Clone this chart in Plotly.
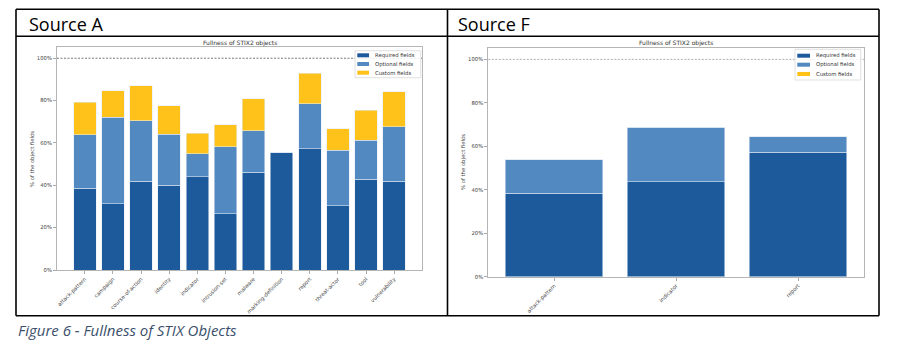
import plotly.graph_objects as go

W, H = 901, 356

# ---------------- data ----------------
cats_a = ["attack-pattern", "campaign", "course-of-action", "identity", "indicator",
          "intrusion-set", "malware", "marking-definition", "report", "threat-actor",
          "tool", "vulnerability"]
req_a = [38.5, 31.4, 41.8, 40.1, 44.0, 26.5, 46.2, 55.5, 57.3, 30.3, 42.9, 41.8]
opt_a = [25.4, 40.7, 28.7, 24.1, 11.0, 31.7, 19.6, 0.0, 21.1, 26.3, 18.3, 25.9]
cus_a = [15.3, 12.5, 16.6, 13.4, 9.5, 10.3, 15.0, 0.0, 14.4, 10.0, 14.2, 16.5]

cats_f = ["attack-pattern", "indicator", "report"]
req_f = [38.4, 43.7, 57.2]
opt_f = [15.4, 25.0, 7.2]
cus_f = [0.0, 0.0, 0.0]

series_names = ["Required fields", "Optional fields", "Custom fields"]
colors = ["#1c5a9c", "#5289c0", "#fec21b"]
y_ticks = [0, 20, 40, 60, 80, 100]

# ---------------- helpers ----------------
def px(x):
    return x / W

def py(y):
    return 1 - y / H

fig = go.Figure()

edge = dict(color="rgba(225,235,246,0.8)", width=0.7)
for vals, name, col in zip([req_a, opt_a, cus_a], series_names, colors):
    fig.add_trace(go.Bar(x=cats_a, y=vals, name=name, marker=dict(color=col, line=edge),
                         xaxis="x", yaxis="y", showlegend=False, width=0.8))
for vals, name, col in zip([req_f, opt_f, cus_f], series_names, colors):
    fig.add_trace(go.Bar(x=cats_f, y=vals, name=name, marker=dict(color=col, line=edge),
                         xaxis="x2", yaxis="y2", showlegend=False, width=0.8))

tick_font = dict(family="DejaVu Sans", size=5.3, color="#444")
ax_common = dict(showline=True, mirror=True, linecolor="#b5b5b5", linewidth=1,
                 ticks="outside", ticklen=3, tickcolor="#aaa", tickfont=tick_font,
                 showgrid=False, zeroline=False, automargin=False)

fig.update_layout(
    width=W, height=H, margin=dict(l=0, r=0, t=0, b=0),
    paper_bgcolor="white", plot_bgcolor="white",
    barmode="stack", showlegend=False,
    xaxis=dict(domain=[px(57), px(422)], anchor="y", type="category",
               range=[-0.99, 11.99], tickangle=-45, **ax_common),
    yaxis=dict(domain=[py(270), py(47)], anchor="x", range=[0, 105.3],
               tickvals=y_ticks, ticktext=[f"{v}%" for v in y_ticks], **ax_common),
    xaxis2=dict(domain=[px(488.3), px(864)], anchor="y2", type="category",
                range=[-0.54, 2.54], tickangle=-45, **ax_common),
    yaxis2=dict(domain=[py(276.7), py(48.3)], anchor="x2", range=[0, 105.1],
                tickvals=y_ticks, ticktext=[f"{v}%" for v in y_ticks], **ax_common),
)

shapes = []
annotations = []

# dashed 100% lines
for xr, yr, c in [("x domain", "y", "#555"), ("x2 domain", "y2", "#9a9a9a")]:
    shapes.append(dict(type="line", xref=xr, yref=yr, x0=0, x1=1, y0=100, y1=100,
                       line=dict(color=c, width=0.8, dash="2px,1.5px"), layer="below"))

# table borders
lc = dict(color="black", width=1.6)
for (x0, y0, x1, y1) in [(16, 9.3, 879, 9.3), (16, 36.2, 879, 36.2), (16, 315.8, 879, 315.8),
                         (16, 9.3, 16, 315.8), (447.5, 9.3, 447.5, 315.8), (879, 9.3, 879, 315.8)]:
    shapes.append(dict(type="line", xref="paper", yref="paper", x0=px(x0), x1=px(x1),
                       y0=py(y0), y1=py(y1), line=lc))

# headers and caption
annotations.append(dict(text="Source A", x=px(26.5), y=py(24), xref="paper", yref="paper",
                        xanchor="left", yanchor="middle", showarrow=False,
                        font=dict(family="Open Sans", size=18, color="black")))
annotations.append(dict(text="Source F", x=px(456.5), y=py(24), xref="paper", yref="paper",
                        xanchor="left", yanchor="middle", showarrow=False,
                        font=dict(family="Open Sans", size=18, color="black")))
annotations.append(dict(text="<i>Figure 6 - Fullness of STIX Objects</i>", x=px(15.5), y=py(330),
                        xref="paper", yref="paper", xanchor="left", yanchor="middle",
                        showarrow=False, font=dict(family="Open Sans", size=15, color="#3b4f6b")))

# chart titles and y labels
chart_font = dict(family="DejaVu Sans", size=6, color="#333")
for cx, ty, lx, ly in [((57 + 422) / 2, 43, 33, 159), ((488.3 + 864) / 2, 43.5, 463, 162)]:
    annotations.append(dict(text="Fullness of STIX2 objects", x=px(cx), y=py(ty), xref="paper",
                            yref="paper", xanchor="center", yanchor="middle", showarrow=False,
                            font=chart_font))
    annotations.append(dict(text="% of the object fields", x=px(lx), y=py(ly), xref="paper",
                            yref="paper", xanchor="center", yanchor="middle", showarrow=False,
                            textangle=-90, font=dict(family="DejaVu Sans", size=5.3, color="#444")))

# legends (matplotlib-style compact)
def legend(bx0, by0, bx1, by1, patch_x0, patch_x1, text_x, rows):
    shapes.append(dict(type="rect", xref="paper", yref="paper", x0=px(bx0), x1=px(bx1),
                       y0=py(by1), y1=py(by0), line=dict(color="#d8d8d8", width=0.8),
                       fillcolor="rgba(255,255,255,0.85)"))
    for ry, name, col in zip(rows, series_names, colors):
        shapes.append(dict(type="rect", xref="paper", yref="paper", x0=px(patch_x0),
                           x1=px(patch_x1), y0=py(ry + 2), y1=py(ry - 2),
                           line=dict(width=0), fillcolor=col))
        annotations.append(dict(text=name, x=px(text_x), y=py(ry), xref="paper", yref="paper",
                                xanchor="left", yanchor="middle", showarrow=False,
                                font=dict(family="DejaVu Sans", size=5.3, color="#333")))

legend(355, 50.7, 420.7, 77.7, 357.3, 369, 372.5, [55.3, 64.0, 72.7])
legend(795, 49.3, 860.7, 80, 797.3, 810, 813.5, [55.7, 64.7, 74.0])

fig.update_layout(shapes=shapes, annotations=annotations)
fig.write_html("out.html", config={"displayModeBar": False},
               post_script="document.body.style.margin='0';document.body.style.overflow='hidden';")
